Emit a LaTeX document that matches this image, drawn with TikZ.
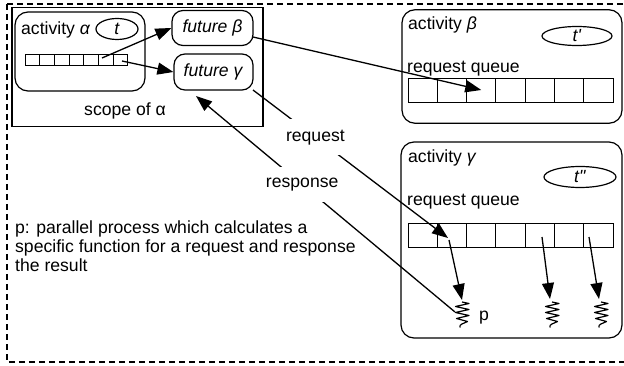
\documentclass[tikz,border=0pt]{standalone}
\usepackage{fontspec}
\setmainfont{Liberation Sans}
\usetikzlibrary{arrows.meta,shapes.geometric}
\begin{document}
\begin{tikzpicture}[x=1pt,y=-1pt,
  every node/.style={font=\fontsize{17.6}{19.5}\selectfont, inner sep=0pt},
  frame/.style={draw, line width=1.2pt},
  actbox/.style={draw, line width=1.2pt, rounded corners=13pt},
  futbox/.style={draw, line width=1.2pt, rounded corners=11pt},
  cell/.style={draw, line width=0.9pt},
  thread/.style={draw, ellipse, line width=1.2pt},
  arr/.style={line width=1.3pt, -{Triangle[length=16pt,width=12pt]}},
  lbl/.style={fill=white, inner xsep=3pt, inner ysep=10.5pt},
  squig/.pic={\draw[line width=1.2pt, line join=round]
      (0,0) -- (7,1.5) -- (-6.5,4.5) -- (7,7.5) -- (-6.5,10.5) -- (7,13.5)
      -- (-5.5,16.5) -- (5.5,19.5) .. controls (1,22) and (-3,22) .. (-2,25.5);},
]
\useasboundingbox (0,0) rectangle (624,366);

% enclosing dashed region (continues past the right edge)
\draw[line width=1.1pt, dash pattern=on 6pt off 4pt] (7,4) rectangle (632,362);

% scope of alpha
\node[frame, minimum width=251pt, minimum height=119pt] (scope) at (137.5,67.2) {};
\node[anchor=base] (scopelbl) at (125,115.5) {scope of α};

% activity alpha with its thread and queue
\node[actbox, minimum width=130pt, minimum height=79pt] (actA) at (80,51.5) {};
\node[anchor=base west] (actAlbl) at (21,34.5) {activity \textit{α}};
\node[thread, minimum width=42pt, minimum height=21pt] (thA) at (117,29) {\textit{t}};
\foreach \i in {1,...,7}
  \node[cell, minimum width=14.7pt, minimum height=11pt] (qa\i) at (25+14.7*\i-7.35,59.5) {};

% futures
\node[futbox, minimum width=81pt, minimum height=35pt] (futB) at (212.5,28) {\textit{future β}};
\node[futbox, minimum width=79pt, minimum height=36pt] (futG) at (213.5,72) {\textit{future γ}};

% activity beta
\node[actbox, minimum width=220pt, minimum height=113.5pt] (actB) at (512,66.5) {};
\node[anchor=base west] (actBlbl) at (408,30) {activity \textit{β}};
\node[thread, minimum width=70pt, minimum height=19pt] (thB) at (577,36) {\textit{t\textquotesingle}};
\node[anchor=base west] (rqBlbl) at (407,73) {request queue};
\foreach \i in {1,...,7}
  \node[cell, minimum width=29.3pt, minimum height=24pt] (qb\i) at (408+29.3*\i-14.65,90) {};

% activity gamma
\node[actbox, minimum width=221pt, minimum height=196pt] (actG) at (511.5,240) {};
\node[anchor=base west] (actGlbl) at (408,163) {activity \textit{γ}};
\node[thread, minimum width=72pt, minimum height=21pt] (thG) at (580,177) {\textit{t\textquotedbl}};
\node[anchor=base west] (rqGlbl) at (407,206) {request queue};
\foreach \i in {1,...,7}
  \node[cell, minimum width=29.3pt, minimum height=24pt] (qg\i) at (408+29.3*\i-14.65,235) {};

% parallel processes
\coordinate (s1) at (462,302);
\coordinate (s2) at (552,302);
\coordinate (s3) at (601,302);
\pic at (s1) {squig};
\pic at (s2) {squig};
\pic at (s3) {squig};
\node[anchor=base west] (plbl) at (479,320) {p};

% connector end points
\coordinate (aB) at (102,58);
\coordinate (aG) at (122,61);
\coordinate (fBout) at (253,37);
\coordinate (fGout) at (253,90);
\coordinate (fGin) at (196,96);
\coordinate (rqIn) at (448,238);
\coordinate (rqOut) at (449,240);
\coordinate (g5) at (542,237);
\coordinate (g7) at (589,237);
\coordinate (pOut) at (455,312);
\coordinate (t1) at (462,300);
\coordinate (t2) at (550,299);
\coordinate (t3) at (599,299);

% connectors
\draw[arr] (aB) -- (futB.west);
\draw[arr] (aG) -- (futG.west);
\draw[arr] (fBout) -- (qb3.center);
\draw[arr] (fGout) -- node[lbl, pos=0.32] (reqlbl) {request} (rqIn);
\draw[arr] (rqOut) -- (t1);
\draw[arr] (g5) -- (t2);
\draw[arr] (g7) -- (t3);
\draw[arr] (pOut) -- node[lbl, pos=0.59] (resplbl) {response} (fGin);

% legend
\node[anchor=base west, align=left] (legend) at (15,272)
  {p: parallel process which calculates a\\
   specific function for a request and response\\
   the result};
\end{tikzpicture}
\end{document}
